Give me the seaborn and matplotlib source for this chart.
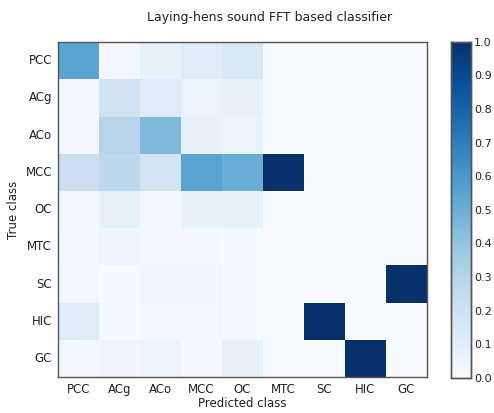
import numpy as np
import pandas as pd
import matplotlib
matplotlib.use("Agg")
import matplotlib.pyplot as plt
import seaborn as sns

classes = ["PCC", "ACg", "ACo", "MCC", "OC", "MTC", "SC", "HIC", "GC"]
row_pcc = [0.55, 0.02, 0.08, 0.12, 0.15, 0.0, 0.0, 0.0, 0.0]
row_acg = [0.02, 0.20, 0.12, 0.07, 0.08, 0.0, 0.0, 0.0, 0.0]
row_aco = [0.02, 0.30, 0.45, 0.08, 0.07, 0.0, 0.0, 0.0, 0.0]
row_mcc = [0.22, 0.28, 0.18, 0.55, 0.50, 1.0, 0.0, 0.0, 0.0]
row_oc  = [0.03, 0.08, 0.03, 0.08, 0.08, 0.0, 0.0, 0.0, 0.0]
row_mtc = [0.02, 0.05, 0.02, 0.02, 0.01, 0.0, 0.0, 0.0, 0.0]
row_sc  = [0.03, 0.01, 0.04, 0.04, 0.01, 0.0, 0.0, 0.0, 1.0]
row_hic = [0.12, 0.01, 0.03, 0.03, 0.01, 0.0, 1.0, 0.0, 0.0]
row_gc  = [0.03, 0.05, 0.06, 0.02, 0.08, 0.0, 0.0, 1.0, 0.0]
cbar_ticks = [0.0, 0.1, 0.2, 0.3, 0.4, 0.5, 0.6, 0.7, 0.8, 0.9, 1.0]

data = pd.DataFrame([row_pcc, row_acg, row_aco, row_mcc, row_oc,
                     row_mtc, row_sc, row_hic, row_gc],
                    index=classes, columns=classes)

sns.set_style("white")
plt.rcParams["font.family"] = ["DejaVu Sans"]

fig = plt.figure(figsize=(4.94, 4.13), dpi=100)
ax = fig.add_axes([0.117, 0.087, 0.747, 0.811])
cax = fig.add_axes([0.913, 0.085, 0.041, 0.814])

sns.heatmap(data, ax=ax, cbar_ax=cax, cmap="Blues", vmin=0, vmax=1,
            square=False, linewidths=0)

for s in ax.spines.values():
    s.set_visible(True)
    s.set_color("#555555")
    s.set_linewidth(1.0)
for s in cax.spines.values():
    s.set_visible(True)
    s.set_color("#555555")
    s.set_linewidth(1.0)

ax.tick_params(axis="both", direction="in", length=4, width=0.8,
               colors="#333333", labelsize=8.5, labelcolor="#222222",
               left=True, bottom=True, pad=4)
ax.set_xticklabels(classes, rotation=0)
ax.set_yticklabels(classes, rotation=0)
ax.set_xlabel("Predicted class", fontsize=8.5, color="#222222", labelpad=1)
ax.set_ylabel("True class", fontsize=8.5, color="#222222", labelpad=4)
fig.text(270 / 494, 1 - 17 / 413, "Laying-hens sound FFT based classifier",
         fontsize=9, color="#222222", ha="center", va="center")

cax.set_yticks(cbar_ticks)
cax.set_yticklabels([f"{v:.1f}" for v in cbar_ticks])
cax.tick_params(labelsize=8, length=4, width=0.8, direction="in", right=True,
                pad=2, colors="#333333", labelcolor="#222222")

fig.savefig("out.png", dpi=100)
